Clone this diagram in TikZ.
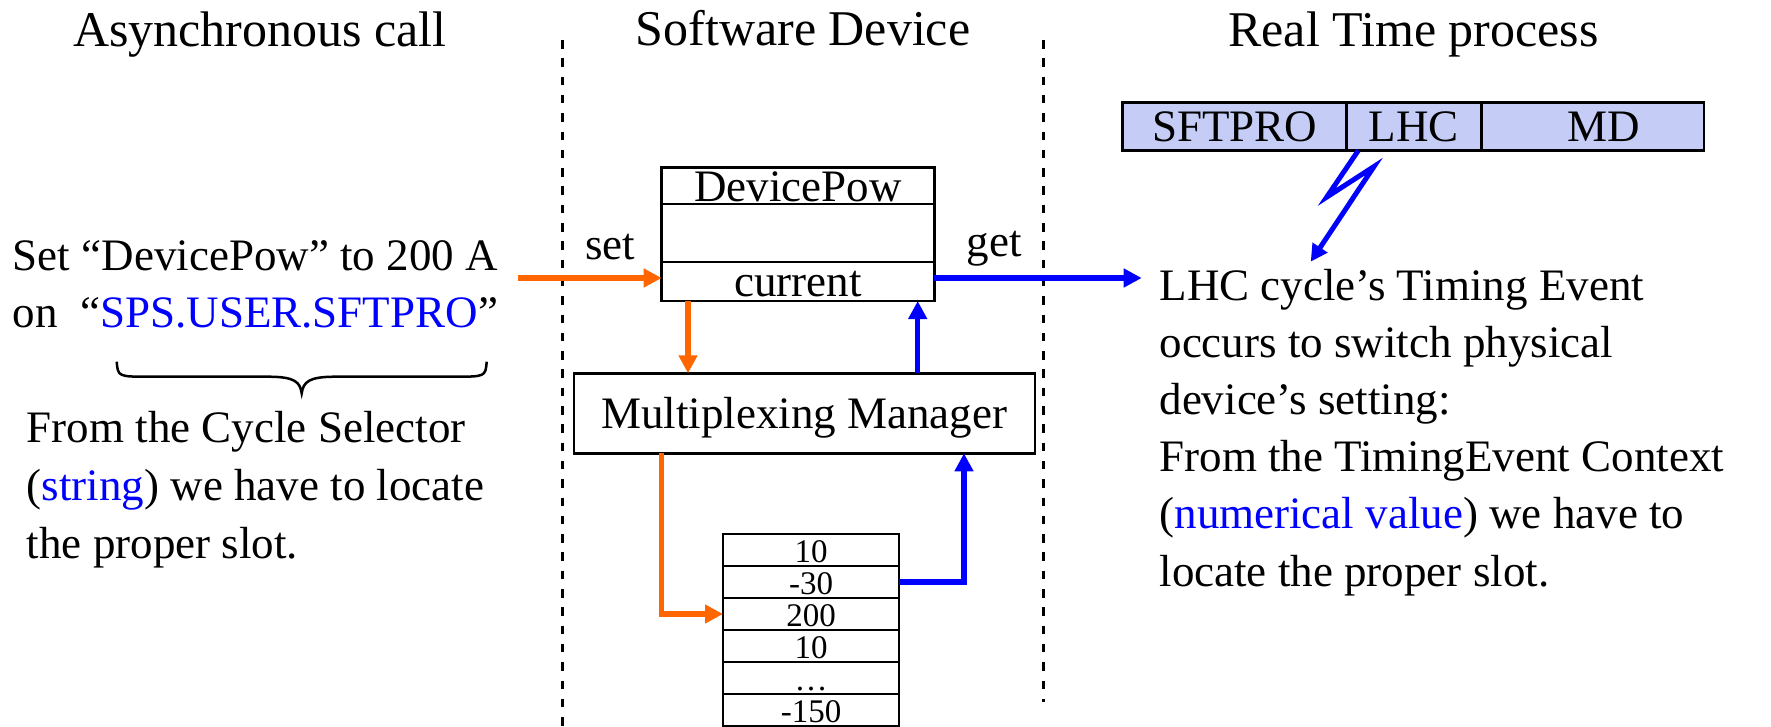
\documentclass[tikz,border=0pt]{standalone}
\usepackage{fontspec}
\setmainfont{Liberation Serif}
\usetikzlibrary{arrows.meta}
\definecolor{flowOrange}{RGB}{255,102,0}
\definecolor{flowBlue}{RGB}{0,0,255}
\definecolor{cycleFill}{RGB}{197,204,246}
\begin{document}
\begin{tikzpicture}[x=1pt,y=-1pt,
  box/.style={draw=black, line width=2.8pt, inner sep=0pt, outer sep=0pt},
  lbl/.style={inner sep=0pt, anchor=base, font=\fontsize{45pt}{54pt}\selectfont},
  ln/.style={inner sep=0pt, anchor=base west, font=\fontsize{45pt}{54pt}\selectfont},
  head/.style={inner sep=0pt, anchor=base, font=\fontsize{50pt}{60pt}\selectfont},
  num/.style={inner sep=0pt, anchor=base, font=\fontsize{33pt}{40pt}\selectfont},
  oflow/.style={draw=flowOrange, line width=5.5pt, -{Triangle[length=18pt,width=18pt]}},
  bflow/.style={draw=flowBlue, line width=5.5pt, -{Triangle[length=18pt,width=18pt]}},
  sepline/.style={line width=2.6pt, dash pattern=on 8.5pt off 9.8pt},
]
% canvas
\fill[white] (0,0) rectangle (1771,726);
\useasboundingbox (0,0) rectangle (1771,726);

% column headings and separators
\node[head] (hAsync) at (260,46.7) {Asynchronous call};
\node[head] (hSoft) at (803,45) {Software Device};
\node[head] (hReal) at (1413.5,46.7) {Real Time process};
\draw[sepline] (562.7,40) -- (562.7,726);
\draw[sepline] (1043.3,40) -- (1043.3,702);

% left column: the asynchronous set request
\node[ln] (req1) at (12.7,270.7) {Set “DevicePow” to 200 A};
\node[ln] (req2) at (12.7,327.3) {on\ \ “\textcolor{flowBlue}{SPS.USER.SFTPRO}”};
\draw[line width=2.5pt] (116.7,361.7) .. controls (118,376.7) .. (150,376.7)
  -- (268,376.7) .. controls (295,376.7) and (300,382) .. (301.7,393.3)
  .. controls (303.4,382) and (308.4,376.7) .. (335.4,376.7)
  -- (453.4,376.7) .. controls (485.4,376.7) .. (486.7,361.7);
\node[ln] (sel1) at (26.7,442.7) {From the Cycle Selector};
\node[ln] (sel2) at (26.7,500.7) {(\textcolor{flowBlue}{string}) we have to locate};
\node[ln] (sel3) at (26.7,558.3) {the proper slot.};

% software device: property box
\node[box, minimum width=272.6pt, minimum height=36.7pt] (dpname) at (798,185.65) {};
\node[box, minimum width=272.6pt, minimum height=58pt] (dpmid) at (798,233) {};
\node[box, minimum width=272.6pt, minimum height=39pt] (dpcur) at (798,281.5) {};
\node[lbl] (dpnameT) at (798,201.7) {DevicePow};
\node[lbl] (dpcurT) at (798,296.7) {current};
\node[ln] (setT) at (585,259.3) {set};
\node[ln] (getT) at (966.7,256.7) {get};

% multiplexing manager
\node[box, minimum width=461pt, minimum height=80pt] (mm) at (804.5,413.3) {};
\node[lbl] (mmT) at (804.3,428.5) {Multiplexing Manager};

% slot table
\foreach \i/\v [count=\k] in {550/10, 582/-30, 614/200, 646/10, 678/\ldots, 710/-150} {
  \node[box, minimum width=176pt, minimum height=32pt] (t\k) at (811,\i) {};
  \node[num] (t\k T) at (811,\i+12) {\v};
}

% real time column: cycle sequence
\node[box, fill=cycleFill, minimum width=224pt, minimum height=47.8pt] (sft) at (1234.7,126.6) {};
\node[box, fill=cycleFill, minimum width=135pt, minimum height=47.8pt] (lhc) at (1414.2,126.6) {};
\node[box, fill=cycleFill, minimum width=222.3pt, minimum height=47.8pt] (md) at (1592.85,126.6) {};
\node[lbl] (sftT) at (1234.7,141.7) {SFTPRO};
\node[lbl] (lhcT) at (1413.5,141.7) {LHC};
\node[lbl] (mdT) at (1604,141.7) {MD};

\node[ln] (ev1) at (1159.3,300) {LHC cycle’s Timing Event};
\node[ln] (ev2) at (1159.3,357.3) {occurs to switch physical};
\node[ln] (ev3) at (1159.3,414) {device’s setting:};
\node[ln] (ev4) at (1159.3,471.7) {From the TimingEvent Context};
\node[ln] (ev5) at (1159.3,528.3) {(\textcolor{flowBlue}{numerical value}) we have to};
\node[ln] (ev6) at (1159.3,586) {locate the proper slot.};

% connector end points
\coordinate (setStart) at (518,278);
\coordinate (getEnd) at (1141.7,278);
\coordinate (boltEnd) at (1310.7,261.7);
\path ([xshift=114pt]mm.north west) coordinate (mmIn);
\path ([xshift=343.7pt]mm.north west) coordinate (mmUp);
\path ([xshift=87.7pt]mm.south west) coordinate (mmOut);
\path ([xshift=390pt]mm.south west) coordinate (mmBack);

% set path (orange)
\draw[oflow] (setStart) -- (setStart -| dpcur.west);
\draw[oflow] (mmIn |- dpcur.south) -- (mmIn);
\draw[oflow] (mmOut) |- (t3.west);

% get path (blue)
\draw[bflow] (t2.east) -| (mmBack);
\draw[bflow] (mmUp) -- (mmUp |- dpcur.south);
\draw[bflow] ([yshift=3.5pt]dpcur.east) -- (getEnd);

% timing event bolt
\draw[bflow, line width=5pt, -{Triangle[length=17pt,width=17pt]}]
  ([xshift=11.6pt]lhc.south west) -- ++(-31.6,46.6) -- ++(47.3,-30.6) -- (boltEnd);
\end{tikzpicture}
\end{document}
